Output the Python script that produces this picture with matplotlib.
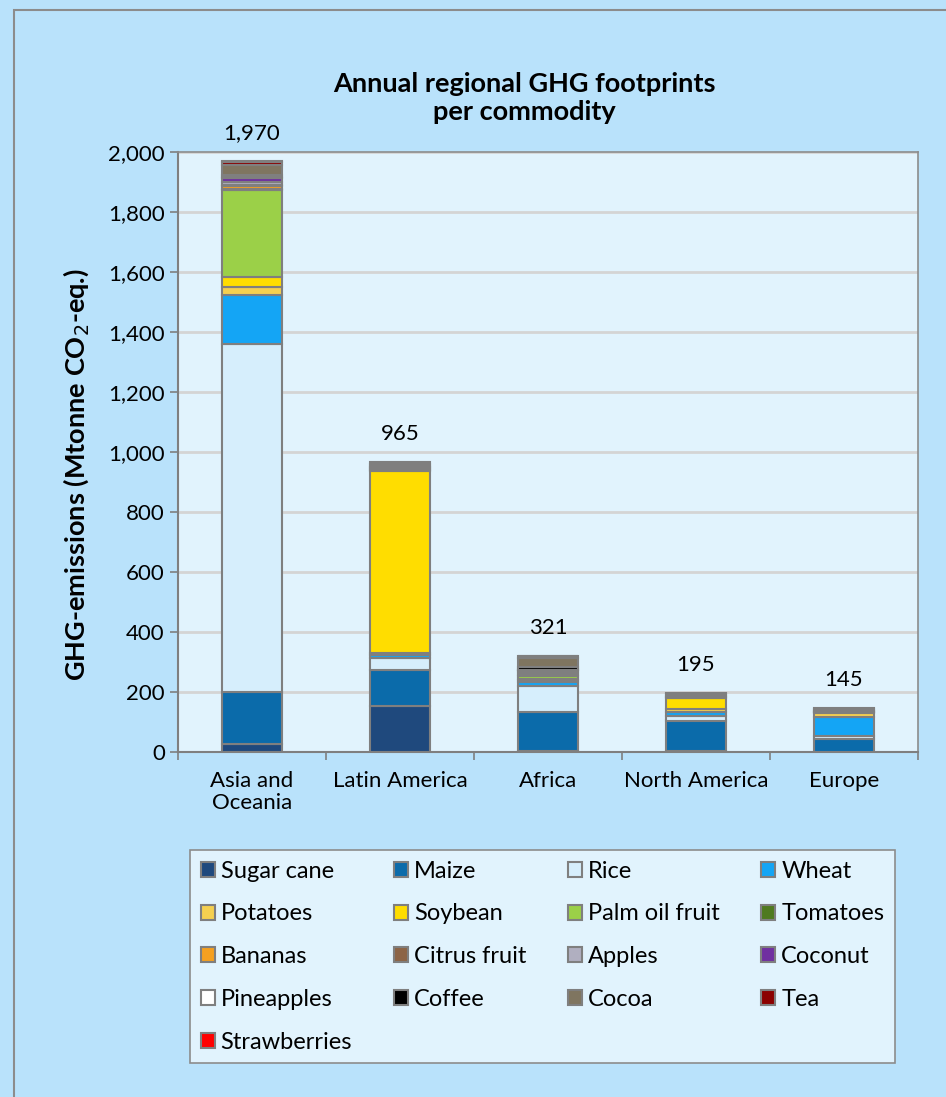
import numpy as np
import matplotlib
matplotlib.use('Agg')
from matplotlib import pyplot as plt
from matplotlib.patches import Rectangle
from matplotlib.ticker import FuncFormatter, FixedLocator

plt.rcParams['font.family'] = ['Lato', 'DejaVu Sans']

regions = ['Asia and\nOceania', 'Latin America', 'Africa', 'North America', 'Europe']
totals = [1970, 965, 321, 195, 145]

commodities = ['Sugar cane', 'Maize', 'Rice', 'Wheat', 'Potatoes', 'Soybean',
               'Palm oil fruit', 'Tomatoes', 'Bananas', 'Citrus fruit', 'Apples',
               'Coconut', 'Pineapples', 'Coffee', 'Cocoa', 'Tea', 'Strawberries']

# Mtonne CO2-eq per region (Asia, Latin America, Africa, North America, Europe)
sugar_cane = [27, 153, 5, 2, 0]
maize = [173, 120, 128, 103, 45]
rice = [1160, 40, 87, 14, 8]
wheat = [163, 10, 15, 16, 65]
potatoes = [27, 7, 6, 8, 12]
soybean = [33, 607, 4, 36, 2]
palm_oil = [290, 3, 8, 0, 0]
tomatoes = [5, 2, 4, 4, 3]
bananas = [8, 5, 8, 0, 0]
citrus = [5, 3, 4, 4, 1]
apples = [10, 2, 1, 6, 7]
coconut = [12, 0, 3, 0, 0]
pineapples = [3, 1, 2, 0, 0]
coffee = [8, 8, 10, 0, 0]
cocoa = [34, 4, 30, 0, 0]
tea = [10, 0, 5, 0, 0]
strawberries = [2, 0, 1, 2, 2]

series = [sugar_cane, maize, rice, wheat, potatoes, soybean, palm_oil, tomatoes,
          bananas, citrus, apples, coconut, pineapples, coffee, cocoa, tea, strawberries]

colors = ['#1F497D', '#0B6BAA', '#D6EEFC', '#14A5F5', '#F5D050', '#FFDD00',
          '#9BD048', '#4F7A1F', '#F5A020', '#8C6446', '#B0AFC0', '#7030A0',
          '#FFFFFF', '#000000', '#7F7560', '#8B0000', '#FF0000']

fig = plt.figure(figsize=(9.46, 10.97), dpi=100)
fig.patch.set_facecolor('#B9E2FB')
fig.patches.append(Rectangle((14 / 946, -0.01), 1.0, 1 - 10 / 1097 + 0.01,
                             transform=fig.transFigure, fill=False,
                             edgecolor='#8C8C8C', linewidth=1.5))

ax = fig.add_axes([178 / 946, 1 - 752 / 1097, 740 / 946, 600 / 1097])
ax.set_facecolor('#E1F3FD')

x = np.arange(len(regions))
bottom = np.zeros(len(regions))
handles = []
for name, vals, col in zip(commodities, series, colors):
    vals = np.array(vals, dtype=float)
    b = ax.bar(x, vals, 0.4, bottom=bottom, color=col, edgecolor='#7F7F7F',
               linewidth=1.5, label=name, zorder=3)
    handles.append(b)
    bottom += vals

for xi, tot, top in zip(x, totals, bottom):
    ax.annotate(f'{tot:,}', (xi, top), xytext=(0, 13), textcoords='offset points',
                ha='center', va='bottom', fontsize=16)

ax.set_xlim(-0.5, len(regions) - 0.5)
ax.set_ylim(0, 2000)
ax.set_yticks(np.arange(0, 2001, 200))
ax.yaxis.set_major_formatter(FuncFormatter(lambda v, p: f'{int(v):,}'))
ax.grid(axis='y', color='#D4D4D4', linewidth=2, zorder=0)
ax.set_xticks(x)
ax.set_xticklabels(regions, fontsize=16, linespacing=1.1)
ax.xaxis.set_minor_locator(FixedLocator(np.arange(-0.5, len(regions), 1)))
ax.tick_params(axis='x', which='major', length=0, pad=14)
ax.tick_params(axis='x', which='minor', length=6, color='#7F7F7F', width=1.2)
ax.tick_params(axis='y', length=6, color='#7F7F7F', width=1.2, labelsize=16)
for s in ['top', 'right']:
    ax.spines[s].set_color('#8C8C8C')
    ax.spines[s].set_linewidth(1.2)
for s in ['left', 'bottom']:
    ax.spines[s].set_color('#7F7F7F')
    ax.spines[s].set_linewidth(1.5)

ax.set_ylabel('GHG-emissions (Mtonne CO$_2$-eq.)', fontsize=19.5, fontweight='bold')
ax.yaxis.set_label_coords(-0.117, 0.463)
fig.text(524 / 946, 1 - 98 / 1097, 'Annual regional GHG footprints\nper commodity',
         ha='center', va='center', fontsize=19.5, fontweight='bold', linespacing=1.2)

# matplotlib fills legend columns first; reorder so the entries read row by row
ncol = 4
nrows, nlarge = divmod(len(commodities), ncol)
order = []
for c in range(ncol):
    rows = nrows + 1 if c < nlarge else nrows
    order += [r * ncol + c for r in range(rows)]
leg = fig.legend(handles=[handles[i] for i in order],
                 labels=[commodities[i] for i in order], ncol=ncol,
                 bbox_to_anchor=(190 / 946, 1 - 1065 / 1097, 705 / 946, 215 / 1097),
                 loc='upper left', mode='expand', fontsize=17, frameon=True,
                 fancybox=False, handlelength=0.6, handleheight=0.6,
                 handletextpad=0.25, labelspacing=0.92, borderpad=0.45,
                 borderaxespad=0, columnspacing=0.3)
leg.get_frame().set_facecolor('#E1F3FD')
leg.get_frame().set_edgecolor('#8C8C8C')
leg.get_frame().set_linewidth(1.2)
leg.get_frame().set_alpha(1)

fig.savefig('out.png', dpi=100, facecolor=fig.get_facecolor())
